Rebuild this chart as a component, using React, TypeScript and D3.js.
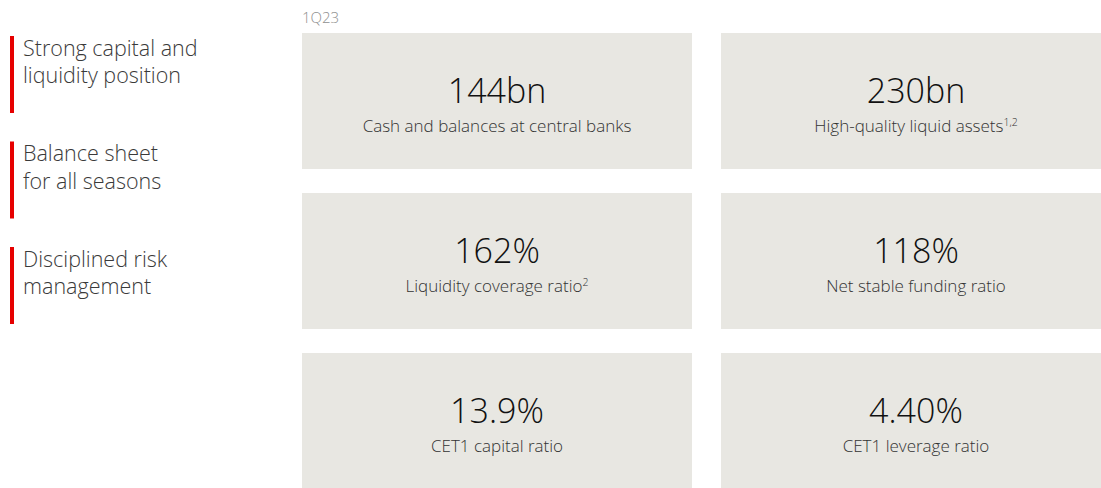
import React from "react";
import * as d3 from "d3";

const periodLabel = "1Q23";
const leftItems = [
  ["Strong capital and", "liquidity position"],
  ["Balance sheet", "for all seasons"],
  ["Disciplined risk", "management"],
];
const metricValues = ["144bn", "230bn", "162%", "118%", "13.9%", "4.40%"];
const metricLabels = [
  "Cash and balances at central banks",
  "High-quality liquid assets",
  "Liquidity coverage ratio",
  "Net stable funding ratio",
  "CET1 capital ratio",
  "CET1 leverage ratio",
];
const metricNotes = ["", "1,2", "2", "", "", ""];

const W = 1101;
const H = 488;
const FONT = "'Open Sans', 'Noto Sans', sans-serif";

export default function App() {
  const x = d3.scaleBand<number>().domain([0, 1]).range([302, 1111]).paddingInner(0.0692).paddingOuter(0);
  const y = d3.scaleBand<number>().domain([0, 1, 2]).range([33, 489]).paddingInner(0.15).paddingOuter(0);
  const leftY = d3.scaleLinear().domain([0, 1]).range([36, 141.5]);

  return (
    <svg width={W} height={H} style={{ position: "absolute", left: 0, top: 0, background: "#fff" }} fontFamily={FONT}>
      <text x={302} y={23} fontSize={15} fill="#8f8f8f" fontWeight={300}>{periodLabel}</text>
      {leftItems.map((lines, i) => {
        const top = leftY(i);
        return (
          <g key={i}>
            <rect x={10} y={top} width={4} height={77} fill="#e60000" />
            {lines.map((t, j) => (
              <text key={j} x={23} y={top + 19.5 + j * 27.5} fontSize={21.5} fill="#3a3a3a" fontWeight={300}>{t}</text>
            ))}
          </g>
        );
      })}
      {metricValues.map((v, i) => {
        const col = i % 2;
        const row = Math.floor(i / 2);
        const bx = x(col)!;
        const by = y(row)!;
        const cx = bx + x.bandwidth() / 2;
        return (
          <g key={i}>
            <rect x={bx} y={by} width={x.bandwidth()} height={y.bandwidth()} fill="#e8e7e2" />
            <text x={cx} y={by + 70} fontSize={34} fontWeight={300} fill="#111" textAnchor="middle">{v}</text>
            <text x={cx} y={by + 99} fontSize={17} fill="#333" fontWeight={300} textAnchor="middle">
              {metricLabels[i]}
              {metricNotes[i] ? (
                <tspan fontSize={10.5} dy={-6}>{metricNotes[i]}</tspan>
              ) : null}
            </text>
          </g>
        );
      })}
    </svg>
  );
}
